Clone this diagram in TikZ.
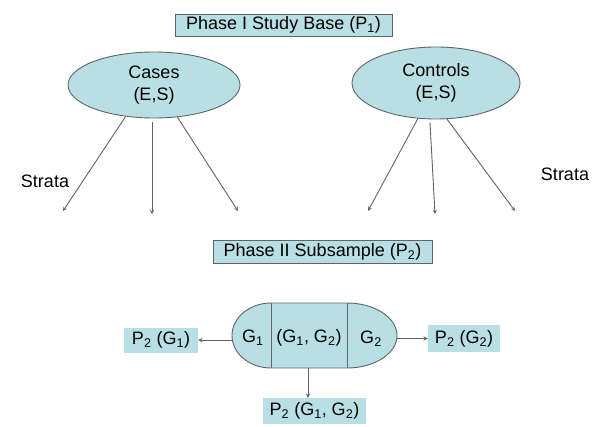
\documentclass[tikz,border=0pt]{standalone}
\usepackage{fontspec}
\setmainfont{Liberation Sans}
\usetikzlibrary{shapes.geometric,arrows,positioning}
\definecolor{lightteal}{RGB}{184,224,228}
\definecolor{edgegray}{RGB}{95,100,104}

\begin{document}
\begin{tikzpicture}
[x=1pt,y=-1pt,>=stealth,font=\fontsize{18}{22}\selectfont,
phase/.style = {draw=edgegray, fill=lightteal, line width=0.8pt, inner sep=0pt},
group/.style = {ellipse, draw=edgegray, fill=lightteal, line width=0.9pt, inner sep=0pt, align=center},
prob/.style = {fill=lightteal, inner sep=0pt},
link/.style = {->, draw=edgegray, line width=0.9pt},]
\useasboundingbox (0,0) rectangle (592,426);

% phase I
\node (base) at (283.5,25)[phase, minimum width=217pt, minimum height=22pt] {Phase I Study Base (P\textsubscript{1})};
\node (cases) at (154,85)[group, minimum width=172pt, minimum height=66pt] {Cases\\(E,S)};
\node (controls) at (436,83)[group, minimum width=168pt, minimum height=72pt] {Controls\\(E,S)};
\node (strataL) at (45,181) {Strata};
\node (strataR) at (565,174) {Strata};

\coordinate (caseA) at (63,211);
\coordinate (caseB) at (152,214);
\coordinate (caseC) at (238,211);
\coordinate (ctrlA) at (368,211);
\coordinate (ctrlB) at (435,214);
\coordinate (ctrlC) at (515,211);

\draw[link] (cases.-132) -- (caseA);
\draw[link] ([xshift=-2pt,yshift=-4pt]cases.south) -- (caseB);
\draw[link] (cases.-54) -- (caseC);
\draw[link] (controls.-117) -- (ctrlA);
\draw[link] ([xshift=-6pt,yshift=-3pt]controls.south) -- (ctrlB);
\draw[link] (controls.-73) -- (ctrlC);

% phase II
\node (sub) at (322.5,251.5)[phase, minimum width=219pt, minimum height=23pt] {Phase II Subsample (P\textsubscript{2})};

\draw[draw=edgegray, fill=lightteal, line width=0.9pt] (271,303)
  arc[start angle=90, end angle=270, x radius=39pt, y radius=32.5pt] -- (347,368)
  arc[start angle=-90, end angle=90, x radius=50pt, y radius=32.5pt] -- cycle;
\draw[draw=edgegray, line width=0.9pt] (271,303) -- (271,368);
\draw[draw=edgegray, line width=0.9pt] (347,303) -- (347,368);

\node (g1) at (253,338) {G\textsubscript{1}};
\node (g12) at (309,338) {(G\textsubscript{1}, G\textsubscript{2})};
\node (g2) at (371,339) {G\textsubscript{2}};

\coordinate (capL) at (232,340);
\coordinate (capR) at (397,338.5);
\coordinate (capB) at (308,368);

\node (pg1) at (161,340)[prob, minimum width=74pt, minimum height=25pt] {P\textsubscript{2} (G\textsubscript{1})};
\node (pg2) at (464,338.5)[prob, minimum width=72pt, minimum height=27pt] {P\textsubscript{2} (G\textsubscript{2})};
\node (pg12) at (314.5,411)[prob, minimum width=103pt, minimum height=26pt] {P\textsubscript{2} (G\textsubscript{1}, G\textsubscript{2})};

\draw[link] (capL) -- (pg1.east);
\draw[link] (capR) -- (pg2.west);
\draw[link] (capB) -- (capB |- pg12.north);
\end{tikzpicture}
\end{document}
